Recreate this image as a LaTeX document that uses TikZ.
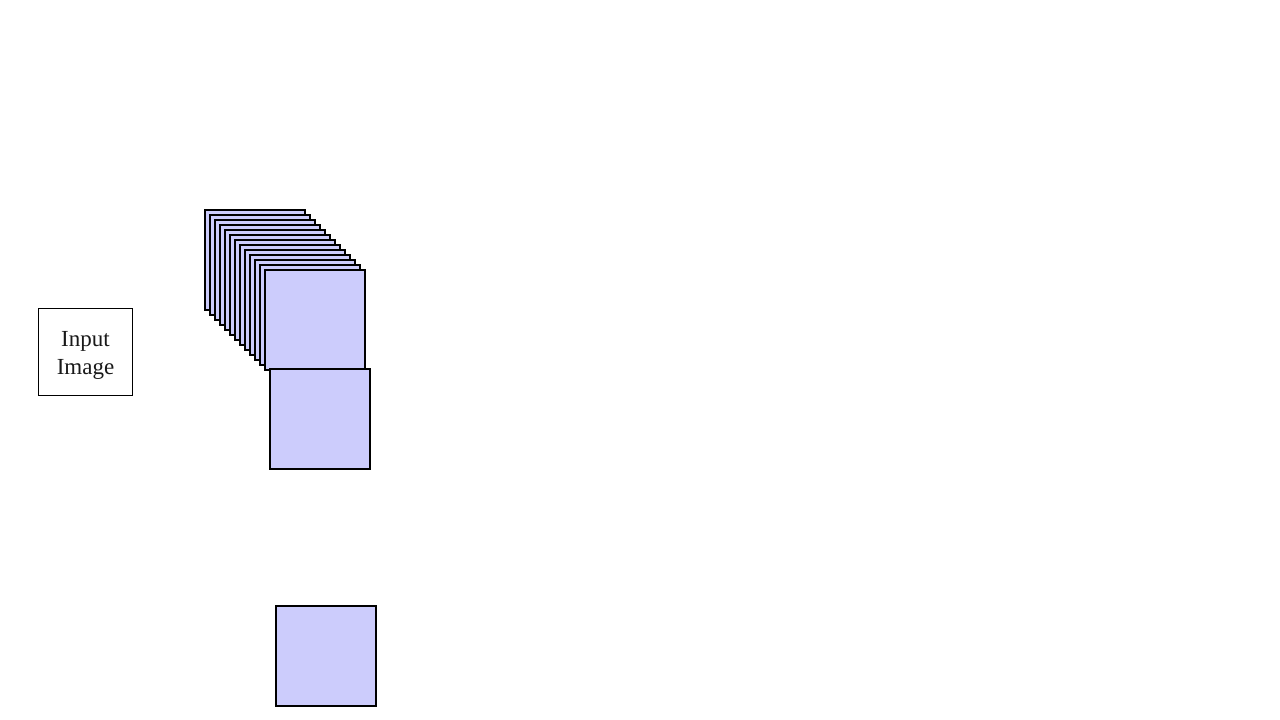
\documentclass[tikz,border=0pt]{standalone}
\usepackage{fontspec}
\setmainfont{Liberation Serif}
\definecolor{fmap}{RGB}{204,204,252}
\begin{document}
\begin{tikzpicture}[x=1pt,y=-1pt,
  fm/.style={draw=black,line width=1.6pt,fill=fmap,minimum width=100pt,minimum height=100pt,inner sep=0pt,anchor=north west,outer sep=0pt},
  inbox/.style={draw=black,line width=0.8pt,fill=white,minimum width=94pt,minimum height=87pt,inner sep=0pt},
  intext/.style={inner sep=0pt,align=center,font=\fontsize{23}{28}\selectfont,text=black!90}]
\useasboundingbox (0,0) rectangle (1280,720);
\fill[white] (0,0) rectangle (1280,720);
\node[inbox] (input) at (85,351.5) {};
\node[intext] (inputlabel) at (85.5,355) {Input\\Image};
\foreach \i in {0,...,12}{
  \node[fm] (s\i) at ({205+5*\i},{210+5*\i}) {};
}
\node[fm] (m1) at (270,369) {};
\node[fm] (m2) at (276,606) {};
\end{tikzpicture}
\end{document}
